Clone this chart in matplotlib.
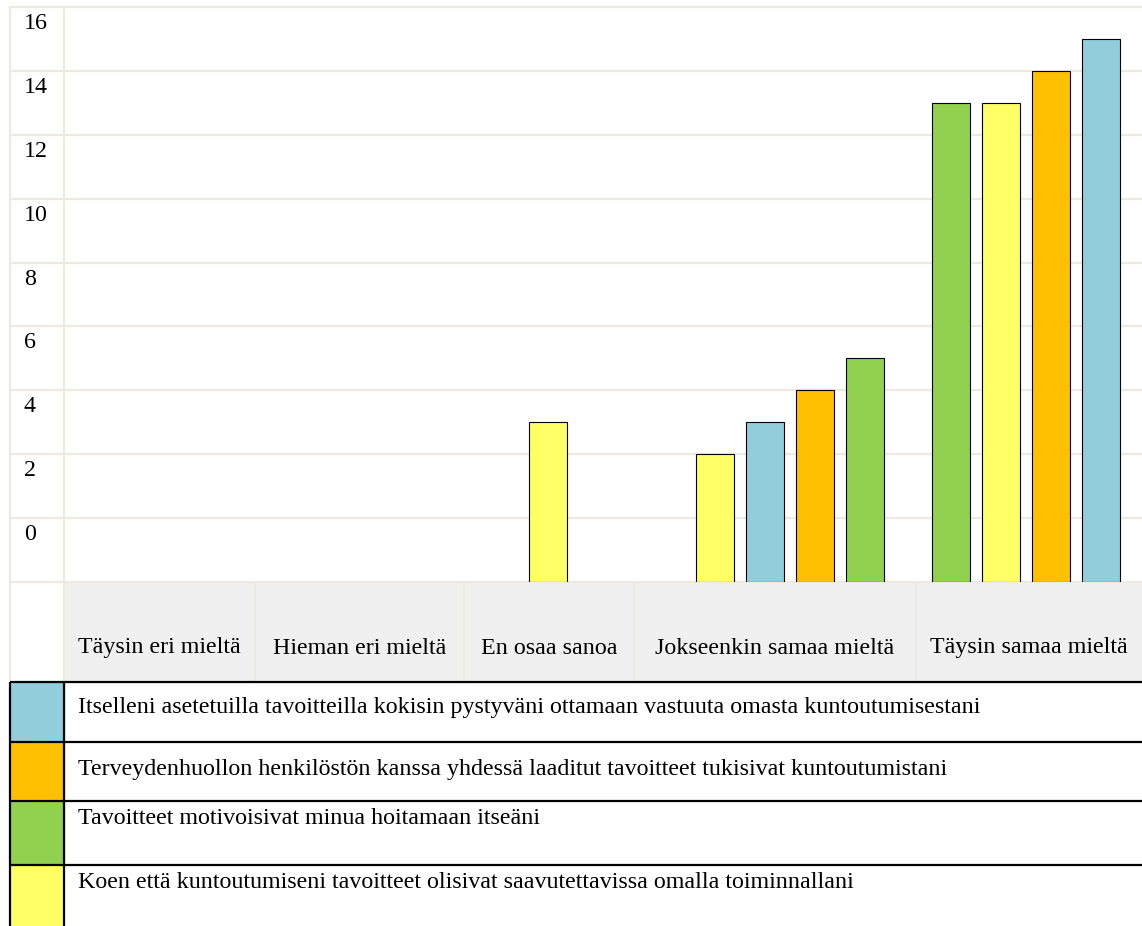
import numpy as np
import matplotlib
matplotlib.use("Agg")
import matplotlib.pyplot as plt
from matplotlib.patches import Rectangle
from matplotlib import transforms

plt.rcParams['font.family'] = ['Liberation Serif', 'DejaVu Serif']

# answer categories and the four statements
categories = ["Täysin eri mieltä", "Hieman eri mieltä", "En osaa sanoa",
              "Jokseenkin samaa mieltä", "Täysin samaa mieltä"]
series_labels = [
    "Itselleni asetetuilla tavoitteilla kokisin pystyväni ottamaan vastuuta omasta kuntoutumisestani",
    "Terveydenhuollon henkilöstön kanssa yhdessä laaditut tavoitteet tukisivat kuntoutumistani",
    "Tavoitteet motivoisivat minua hoitamaan itseäni",
    "Koen että kuntoutumiseni tavoitteet olisivat saavutettavissa omalla toiminnallani",
]
vastuu = [0, 0, 0, 3, 15]
yhdessa = [0, 0, 0, 4, 14]
motivoi = [0, 0, 0, 5, 13]
saavutettava = [0, 0, 3, 2, 13]
series_colors = ["#92CDDC", "#FFC000", "#92D050", "#FFFF66"]
y_ticks = [0, 2, 4, 6, 8, 10, 12, 14, 16]

series = [vastuu, yhdessa, motivoi, saavutettava]

# page layout in pixels
W, H = 1142, 926
LEFT, RIGHT = 10, 1142
LABEL_COL = 64
PLOT_TOP, PLOT_BOTTOM = 7, 582
BAND_BOTTOM = 682
cell_edges = [64, 255, 464, 634, 916, 1142]
group_shift = [0, 0, -1, 15, -3]
legend_rows = [682, 742, 801, 865, 926]
legend_text_y = [707, 768, 817, 881]
BASE = -2
GRID = "#EDEAE0"
FS = 17.25

fig = plt.figure(figsize=(W / 100, H / 100), dpi=100)


def box(l, t, r, b):
    return [l / W, 1 - b / H, (r - l) / W, (b - t) / H]


frame = fig.add_axes([0, 0, 1, 1])
frame.set_xlim(0, W)
frame.set_ylim(H, 0)
frame.axis('off')

ax = fig.add_axes(box(LEFT, PLOT_TOP, RIGHT, PLOT_BOTTOM))
ax.set_xlim(LEFT, RIGHT)
ax.set_ylim(BASE, 16)
ax.axis('off')
ax.patch.set_alpha(0)

# horizontal grid
for v in range(BASE, 17, 2):
    ax.axhline(v, color=GRID, lw=1.6, zorder=0, clip_on=False)

# y labels sit just under their grid line
off = transforms.offset_copy(ax.transData, fig=fig, x=0, y=-6, units='dots')
for v in y_ticks:
    ax.text(24, v, str(v), transform=off, ha='left', va='top', fontsize=FS)

# bars, sorted by value inside each category
bar_w, step = 38, 50
for ci in range(len(categories)):
    vals = [(series[si][ci], si) for si in range(len(series)) if series[si][ci] > 0]
    vals.sort(key=lambda t: t[0])
    n = len(vals)
    if n == 0:
        continue
    center = (cell_edges[ci] + cell_edges[ci + 1]) / 2 + group_shift[ci]
    xs = center + (np.arange(n) - (n - 1) / 2) * step
    for x, (v, si) in zip(xs, vals):
        ax.bar(x, v - BASE, bottom=BASE, width=bar_w, color=series_colors[si],
               edgecolor='black', linewidth=0.8, zorder=3)

# category band
frame.add_patch(Rectangle((LABEL_COL, PLOT_BOTTOM + 1), RIGHT - LABEL_COL,
                          BAND_BOTTOM - PLOT_BOTTOM - 1, color="#F0F0F0", zorder=0))
frame.vlines(cell_edges[1:-1], PLOT_BOTTOM, BAND_BOTTOM, color=GRID, lw=1.6)
frame.vlines([LEFT, LABEL_COL], PLOT_TOP, BAND_BOTTOM, color=GRID, lw=1.6)
for ci, cat in enumerate(categories):
    cx = (cell_edges[ci] + cell_edges[ci + 1]) / 2
    frame.text(cx, 648, cat, ha='center', va='center', fontsize=FS)

# legend table
for si, lab in enumerate(series_labels):
    top, bot = legend_rows[si], legend_rows[si + 1]
    frame.add_patch(Rectangle((LEFT, top), LABEL_COL - LEFT, bot - top,
                              color=series_colors[si], zorder=1))
    frame.text(78, legend_text_y[si] + 1, lab, ha='left', va='center', fontsize=FS)
frame.hlines(legend_rows[:-1], LEFT, RIGHT, color='black', lw=1.6, zorder=2)
frame.vlines([LEFT, LABEL_COL], legend_rows[0], H, color='black', lw=1.6, zorder=2)

fig.savefig("out.png", dpi=100)
